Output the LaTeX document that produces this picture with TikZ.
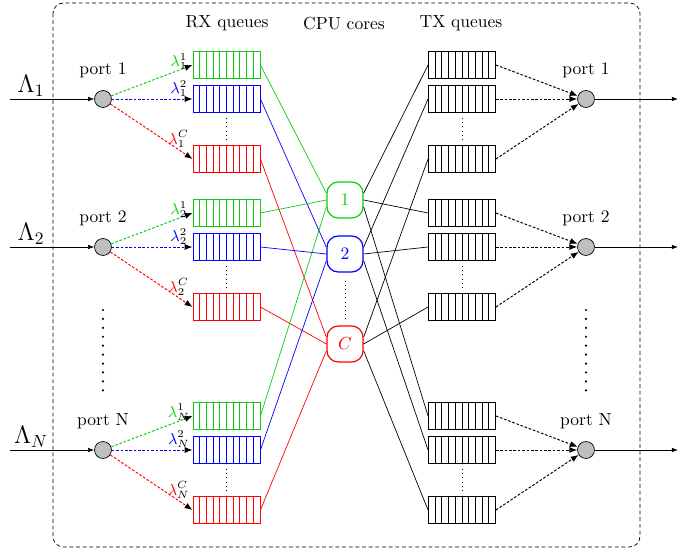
\documentclass[tikz,border=0pt]{standalone}
\usepackage{amsmath}
\usepackage{amssymb}
\usepackage{tikz}
\usetikzlibrary{arrows.meta,calc}

\definecolor{qgreen}{rgb}{0.05,0.8,0.05}

\tikzset{
  port/.style={circle, draw, fill=black!25, minimum size=9.7pt, inner sep=0pt},
  queue/.style={rectangle, draw=#1, minimum width=38.3pt, minimum height=15.4pt, inner sep=0pt, line width=0.5pt,
    path picture={\foreach \k in {1,...,9}
      \draw[#1, line width=0.5pt] ($(path picture bounding box.south west)!\k/10!(path picture bounding box.south east)$)
        -- ($(path picture bounding box.north west)!\k/10!(path picture bounding box.north east)$);}},
  queue/.default=black,
  core/.style={rectangle, draw, rounded corners=6.5pt, minimum size=20.6pt, inner sep=0pt, line width=0.7pt},
  flow/.style={line width=0.55pt, dash pattern=on 1.5pt off 1pt, -{Latex[length=4.5pt,width=3.5pt,color=black]}},
  feed/.style={-{Latex[length=3.5pt,width=2.6pt]}},
}

\begin{document}
\begin{tikzpicture}[x=0.5714pt, y=-0.5714pt]
\useasboundingbox (0,0) rectangle (694,550);

% Frame
\draw[dash pattern=on 2.2pt off 1.6pt, rounded corners=6pt] (53,3) rectangle (640,547);

% Headers
\node (rxt) at (227,23) {RX queues};
\node (cput) at (344,24) {CPU cores};
\node (txt) at (461,23) {TX queues};

% CPU cores
\node[core, qgreen] (c1) at (345,200) {1};
\node[core, blue] (c2) at (345,254) {2};
\node[core, red] (cC) at (345,344) {$C$};
\draw[dotted] ($(c2.south)+(0,8)$) -- ($(cC.north)+(0,-5)$);

% Ports, RX and TX queues
% \a: angle on the core for RX links, \b: angle for TX links
\foreach \p/\y/\a/\b in {1/99/160/20, 2/247/180/0, N/450/200/-20} {
  % input side
  \node[port] (in\p) at (103,\y) {};
  \node[above=3.5pt] (inl\p) at (in\p.north) {port \p};
  \coordinate (src\p) at (10,\y);
  \draw[feed] (src\p) -- node[pos=0.25, above, inner sep=1.5pt] {\Large $\Lambda_{\p}$} (in\p);

  \node[queue=qgreen] (rx\p-1) at (226.5,\y-34) {};
  \node[queue=blue] (rx\p-2) at (226.5,\y) {};
  \node[queue=red] (rx\p-C) at (226.5,\y+60) {};
  \draw[dotted] ($(rx\p-2.south)+(0,5)$) -- ($(rx\p-C.north)+(0,-6)$);

  \draw[flow, qgreen] (in\p) -- node[pos=0.83, above, inner sep=0pt] {\small$\lambda_{\p}^{\color{black}1}$} (rx\p-1.west);
  \draw[flow, blue] (in\p) -- node[pos=0.83, above, inner sep=1pt] {\small$\lambda_{\p}^{\color{black}2}$} (rx\p-2.west);
  \draw[flow, red] (in\p) -- node[pos=0.83, above, inner sep=1pt] {\small$\lambda_{\p}^{\color{black}C}$} (rx\p-C.west);

  \draw[qgreen] (rx\p-1.east) -- (c1.\a);
  \draw[blue] (rx\p-2.east) -- (c2.\a);
  \draw[red] (rx\p-C.east) -- (cC.\a);

  % output side
  \node[queue] (tx\p-1) at (462,\y-34) {};
  \node[queue] (tx\p-2) at (462,\y) {};
  \node[queue] (tx\p-C) at (462,\y+60) {};
  \draw[dotted] ($(tx\p-2.south)+(0,5)$) -- ($(tx\p-C.north)+(0,-6)$);

  \draw (c1.\b) -- (tx\p-1.west);
  \draw (c2.\b) -- (tx\p-2.west);
  \draw (cC.\b) -- (tx\p-C.west);

  \node[port] (out\p) at (586,\y) {};
  \node[above=3.5pt] (outl\p) at (out\p.north) {port \p};
  \coordinate (dst\p) at (678,\y);
  \draw[feed] (out\p) -- (dst\p);
  \foreach \k in {1,2,C}
    \draw[flow] (tx\p-\k.east) -- (out\p);
}

% more ports
\draw[dash pattern=on 0pt off 5.1pt, line cap=round, line width=1.4pt] (103,310) -- (103,393);
\draw[dash pattern=on 0pt off 5.1pt, line cap=round, line width=1.4pt] (586,310) -- (586,393);
\end{tikzpicture}
\end{document}
